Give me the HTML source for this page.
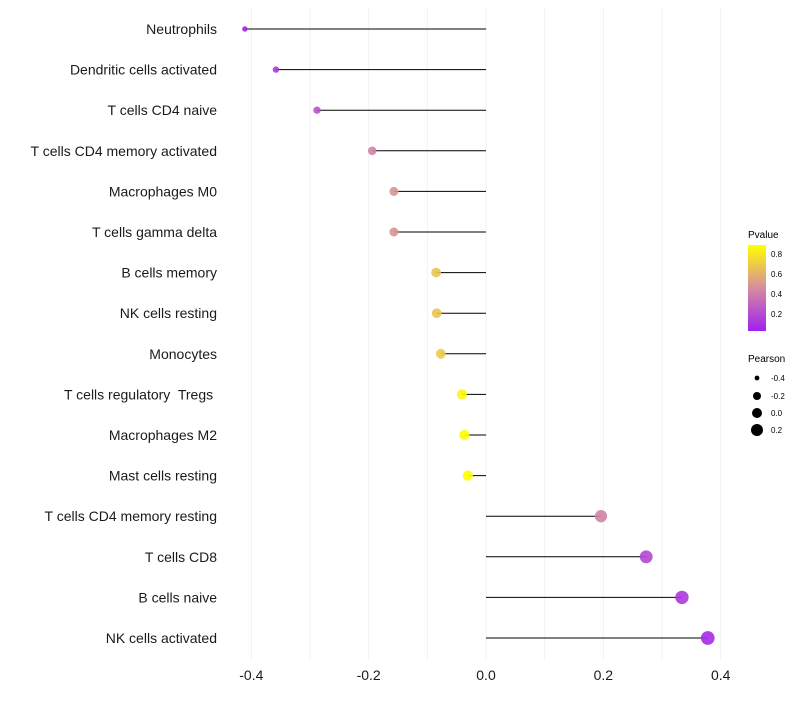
<!DOCTYPE html>
<html><head><meta charset="utf-8"><style>
body{margin:0;background:#fff;font-family:"Liberation Sans",sans-serif}
text{white-space:pre}
</style></head><body>
<svg id="c" width="800" height="700" xmlns="http://www.w3.org/2000/svg">
<defs><linearGradient id="pg" x1="0" y1="1" x2="0" y2="0">
<stop offset="0" stop-color="#a020f0"/><stop offset="0.5" stop-color="#d68ca0"/><stop offset="1" stop-color="#ffff00"/></linearGradient></defs>
<g id="grid"></g>
<g id="marks"></g>
<g id="ylab"></g>
<g id="xlab"></g>
<g font-size="10">
<text x="748" y="238" fill="#000">Pvalue</text>
<rect x="748" y="245" width="18" height="86" fill="url(#pg)"/>
<text x="771" y="257" font-size="8">0.8</text><text x="771" y="277" font-size="8">0.6</text>
<text x="771" y="297" font-size="8">0.4</text><text x="771" y="317" font-size="8">0.2</text>
</g>
<g font-size="10">
<text x="748" y="362">Pearson</text>
<circle cx="757" cy="378" r="2.4"/><text x="771" y="381" font-size="8">-0.4</text>
<circle cx="757" cy="396" r="4"/><text x="771" y="399" font-size="8">-0.2</text>
<circle cx="757" cy="413" r="5"/><text x="771" y="416" font-size="8">0.0</text>
<circle cx="757" cy="430" r="6"/><text x="771" y="433" font-size="8">0.2</text>
</g>
</svg>
<script>
const categories=["Neutrophils","Dendritic cells activated","T cells CD4 naive","T cells CD4 memory activated","Macrophages M0","T cells gamma delta","B cells memory","NK cells resting","Monocytes","T cells regulatory  Tregs ","Macrophages M2","Mast cells resting","T cells CD4 memory resting","T cells CD8","B cells naive","NK cells activated"];
const pearson=[-0.411,-0.358,-0.288,-0.194,-0.157,-0.157,-0.085,-0.084,-0.077,-0.041,-0.037,-0.031,0.196,0.273,0.334,0.378];
const pvalue=[0.03,0.12,0.22,0.42,0.48,0.48,0.66,0.66,0.68,0.85,0.87,0.88,0.42,0.18,0.12,0.06];
const xTicks=[-0.4,-0.2,0.0,0.2,0.4];
const xTickLabels=["-0.4","-0.2","0.0","0.2","0.4"];
const NS="http://www.w3.org/2000/svg";
const x=v=>486+v*586.7;
const y=i=>29+i*40.6;
const rad=v=>Math.sqrt(Math.max(4,28+50*v));
function col(p){const t=Math.max(0,Math.min(1,(p-0.02)/0.86));
const a=[160,32,240],m=[214,140,160],b=[255,255,0];let c;
if(t<0.5){const s=t/0.5;c=a.map((v,k)=>v+(m[k]-v)*s);}else{const s=(t-0.5)/0.5;c=m.map((v,k)=>v+(b[k]-v)*s);}
return `rgb(${c.map(Math.round).join(',')})`;}
function mk(t,at,par){const e=document.createElementNS(NS,t);for(const k in at)e.setAttribute(k,at[k]);document.getElementById(par).appendChild(e);return e;}
for(let v=-0.4;v<=0.401;v+=0.1){const l=mk('line',{x1:x(v),x2:x(v),y1:8,y2:660,stroke:'#f2f2f2','stroke-width':1},'grid');

}
categories.forEach((c,i)=>{
const l=mk('line',{x1:x(0),x2:x(pearson[i]),y1:y(i),y2:y(i),stroke:'#000','stroke-width':1},'marks');


const d=mk('circle',{cx:x(pearson[i]),cy:y(i),r:rad(pearson[i]),fill:col(pvalue[i]),'fill-opacity':0.9},'marks');


const t=mk('text',{x:217,y:y(i)+5,'text-anchor':'end','font-size':14,fill:'#1a1a1a'},'ylab');
t.textContent=c;


});
xTicks.forEach((v,i)=>{const t=mk('text',{x:x(v),y:680,'text-anchor':'middle','font-size':14,fill:'#1a1a1a'},'xlab');
t.textContent=xTickLabels[i];

});
</script>
</body></html>
